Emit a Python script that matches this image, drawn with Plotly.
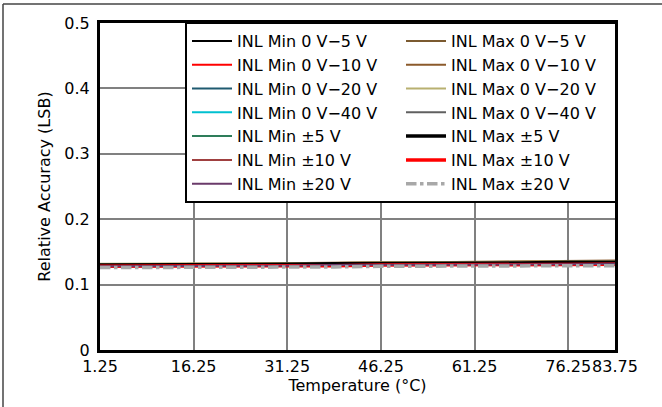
import plotly.graph_objects as go

temperature = [1.25, 8.75, 16.25, 23.75, 31.25, 38.75, 46.25, 53.75, 61.25, 68.75, 76.25, 83.75]

min_0_5 = [0.130, 0.130, 0.130, 0.131, 0.131, 0.131, 0.132, 0.132, 0.132, 0.133, 0.133, 0.134]
min_0_10 = [0.129, 0.129, 0.130, 0.130, 0.130, 0.131, 0.131, 0.131, 0.132, 0.132, 0.133, 0.133]
min_0_20 = [0.129, 0.130, 0.130, 0.130, 0.131, 0.131, 0.131, 0.132, 0.132, 0.132, 0.133, 0.133]
min_0_40 = [0.129, 0.129, 0.130, 0.130, 0.130, 0.131, 0.131, 0.131, 0.132, 0.132, 0.132, 0.133]
min_pm5 = [0.129, 0.130, 0.130, 0.130, 0.131, 0.131, 0.131, 0.132, 0.132, 0.132, 0.133, 0.133]
min_pm10 = [0.128, 0.129, 0.129, 0.129, 0.130, 0.130, 0.130, 0.131, 0.131, 0.131, 0.132, 0.132]
min_pm20 = [0.128, 0.128, 0.129, 0.129, 0.129, 0.130, 0.130, 0.130, 0.131, 0.131, 0.131, 0.132]
max_0_5 = [0.131, 0.131, 0.132, 0.132, 0.132, 0.133, 0.133, 0.134, 0.134, 0.135, 0.135, 0.136]
max_0_10 = [0.131, 0.132, 0.132, 0.132, 0.133, 0.133, 0.134, 0.134, 0.135, 0.135, 0.136, 0.137]
max_0_20 = [0.132, 0.132, 0.132, 0.133, 0.133, 0.133, 0.134, 0.134, 0.135, 0.135, 0.136, 0.136]
max_0_40 = [0.130, 0.130, 0.130, 0.131, 0.131, 0.131, 0.132, 0.132, 0.133, 0.133, 0.133, 0.134]
max_pm5 = [0.130, 0.130, 0.131, 0.131, 0.131, 0.132, 0.132, 0.132, 0.133, 0.133, 0.134, 0.134]
max_pm10 = [0.128, 0.128, 0.129, 0.129, 0.129, 0.129, 0.130, 0.130, 0.130, 0.131, 0.131, 0.131]
max_pm20 = [0.126, 0.126, 0.127, 0.127, 0.127, 0.127, 0.128, 0.128, 0.128, 0.129, 0.129, 0.129]

x_ticks = [1.25, 16.25, 31.25, 46.25, 61.25, 76.25, 83.75]
x_tick_labels = ["1.25", "16.25", "31.25", "46.25", "61.25", "76.25", "83.75"]
y_ticks = [0, 0.1, 0.2, 0.3, 0.4, 0.5]
y_tick_labels = ["0", "0.1", "0.2", "0.3", "0.4", "0.5"]

series = [
    ("INL Min 0 V\u22125 V", min_0_5, "#000000", 2, "solid"),
    ("INL Max 0 V\u22125 V", max_0_5, "#7B5A30", 2, "solid"),
    ("INL Min 0 V\u221210 V", min_0_10, "#FF0000", 2, "solid"),
    ("INL Max 0 V\u221210 V", max_0_10, "#8B5A2B", 2, "solid"),
    ("INL Min 0 V\u221220 V", min_0_20, "#1F5A70", 2, "solid"),
    ("INL Max 0 V\u221220 V", max_0_20, "#B8B070", 2, "solid"),
    ("INL Min 0 V\u221240 V", min_0_40, "#00C0D0", 2, "solid"),
    ("INL Max 0 V\u221240 V", max_0_40, "#606060", 2, "solid"),
    ("INL Min \u00b15 V", min_pm5, "#2E7D5A", 2, "solid"),
    ("INL Max \u00b15 V", max_pm5, "#000000", 3.5, "solid"),
    ("INL Min \u00b110 V", min_pm10, "#A04040", 2, "solid"),
    ("INL Max \u00b110 V", max_pm10, "#FF0000", 3.5, "solid"),
    ("INL Min \u00b120 V", min_pm20, "#6A3A6A", 2, "solid"),
    ("INL Max \u00b120 V", max_pm20, "#A8A8A8", 3.5, "dashdot"),
]

fig = go.Figure()
for name, vals, color, width, dash in series:
    fig.add_trace(go.Scatter(x=temperature, y=vals, mode="lines", name=name,
                             line=dict(color=color, width=width, dash=dash)))

font = "DejaVu Sans, sans-serif"
L, R, T, B = 100, 662 - 615, 23, 407 - 350
W, H = 662 - L - R, 407 - T - B

fig.update_layout(
    width=662, height=407,
    margin=dict(l=L, r=R, t=T, b=B),
    paper_bgcolor="white", plot_bgcolor="white",
    font=dict(family=font, size=16, color="black"),
    showlegend=True,
    legend=dict(
        orientation="h", x=(185 - L) / W, y=1.0 + 1 / H, xanchor="left", yanchor="top",
        entrywidth=159, entrywidthmode="pixels",
        bgcolor="white", bordercolor="black", borderwidth=2,
        font=dict(family=font, size=16, color="black"),
        tracegroupgap=0, itemwidth=40,
    ),
    xaxis=dict(
        range=[1.25, 83.75], tickvals=x_ticks, ticktext=x_tick_labels,
        showgrid=True, gridcolor="#808080", gridwidth=1.5,
        showline=True, linecolor="black", linewidth=3, mirror=True,
        ticks="", zeroline=False, automargin=False, tickangle=0,
        title=dict(text="Temperature (\u00b0C)", standoff=0, font=dict(size=16)),
        tickfont=dict(size=16),
    ),
    yaxis=dict(
        range=[0, 0.5], tickvals=y_ticks, ticktext=y_tick_labels,
        showgrid=True, gridcolor="#808080", gridwidth=1.5,
        showline=True, linecolor="black", linewidth=3, mirror=True,
        ticks="", zeroline=False, automargin=False, ticklabelstandoff=4,
        title=dict(text="Relative Accuracy (LSB)", standoff=10, font=dict(size=16)),
        tickfont=dict(size=16),
    ),
)

# outer frame lines (top and left) of the figure
fig.add_shape(type="line", xref="paper", yref="paper",
              x0=(3 - L) / W, x1=(662 - L) / W, y0=1 + (T - 4) / H, y1=1 + (T - 4) / H,
              line=dict(color="#444444", width=1.5))
fig.add_shape(type="line", xref="paper", yref="paper",
              x0=(3 - L) / W, x1=(3 - L) / W, y0=1 + (T - 4) / H, y1=-(407 - T - H) / H,
              line=dict(color="#444444", width=1.5))

fig.write_html("out.html", config={"displayModeBar": False},
               post_script="document.body.style.margin='0';")
